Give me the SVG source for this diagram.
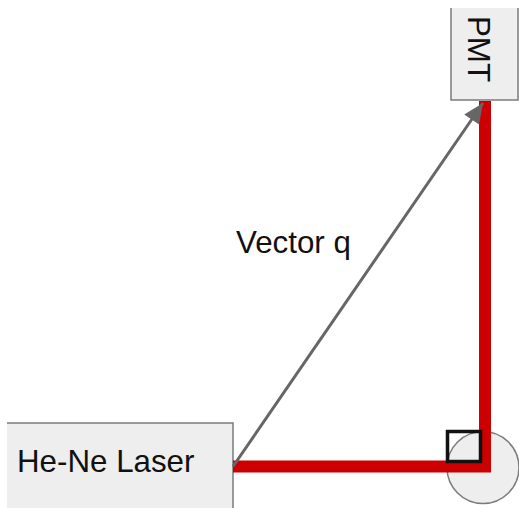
<svg xmlns="http://www.w3.org/2000/svg" width="519" height="508" viewBox="0 0 519 508">
<style>
.fill{fill:#eeeeee}
.edge{fill:none;stroke:#7b7b7b;stroke-width:1.5}
.t{font-family:"Liberation Sans",Arial,sans-serif;font-size:31.300px;fill:#111}
</style>
<defs><marker id="a" markerUnits="userSpaceOnUse" markerWidth="26" markerHeight="24" refX="22" refY="12" orient="auto"><path d="M2 3L22 12L2 21z" fill="#666"/></marker></defs>
<rect width="519" height="508" fill="#fff"/>
<g id="mirror"><circle cx="483" cy="467.500" r="36" class="fill"/><circle cx="483" cy="467.500" r="36" class="edge"/></g>
<g id="laser"><rect x="7" y="423" width="226" height="85" class="fill"/><path d="M7 423H233V508" class="edge"/><text x="17" y="472" class="t">He-Ne Laser</text></g>
<g id="pmt"><rect x="451" y="8" width="67" height="92" class="fill"/><path d="M451 8V100H518V8" class="edge"/><text transform="translate(468 16) rotate(90)" class="t">PMT</text></g>
<g id="connectors">
<path d="M233 466.500H485V101" fill="none" stroke="#cc0000" stroke-width="12"/>
<path d="M233 466.500L483 103" fill="none" stroke="#666" stroke-width="3" marker-end="url(#a)"/>
<rect x="447.500" y="431.500" width="33" height="30" fill="none" stroke="#111" stroke-width="3.500"/>
</g>
<g id="label"><text x="236" y="253" class="t">Vector q</text></g>
</svg>
